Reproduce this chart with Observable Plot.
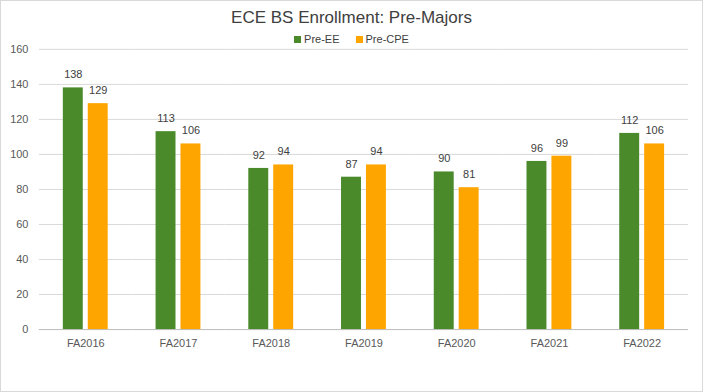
<!DOCTYPE html>
<html>
<head>
<meta charset="utf-8">
<script src="https://cdn.jsdelivr.net/npm/d3@7"></script>
<script src="https://cdn.jsdelivr.net/npm/@observablehq/plot@0.6"></script>
<style>
  html, body { margin: 0; padding: 0; background: #fff; }
  #chart { position: relative; width: 703px; height: 392px; box-sizing: border-box; border: 1px solid #d9d9d9; overflow: hidden; font-family: "Liberation Sans", Arial, sans-serif; }
  #title { position: absolute; left: 0; right: 0; top: 7px; text-align: center; font-size: 17px; color: #404040; }
  #legend { position: absolute; left: 0; right: 0; top: 32px; text-align: center; font-size: 11px; color: #404040; }
  #legend span.item { margin: 0 8px; }
  #legend span.sw { display: inline-block; width: 7px; height: 7px; margin-right: 3px; }
  #chart svg { position: absolute; left: -1px; top: -1px; }
</style>
</head>
<body>
<div id="chart">
  <div id="title">ECE BS Enrollment: Pre-Majors</div>
  <div id="legend"></div>
</div>
<script>
const years = ["FA2016", "FA2017", "FA2018", "FA2019", "FA2020", "FA2021", "FA2022"];
const seriesNames = ["Pre-EE", "Pre-CPE"];
const preEE = [138, 113, 92, 87, 90, 96, 112];
const preCPE = [129, 106, 94, 94, 81, 99, 106];
const yTicks = [0, 20, 40, 60, 80, 100, 120, 140, 160];
const colors = ["#4b8a2b", "#ffa500"];

const data = years.flatMap((yr, i) => [
  {year: yr, series: seriesNames[0], value: preEE[i]},
  {year: yr, series: seriesNames[1], value: preCPE[i]}
]);

const legend = document.getElementById("legend");
legend.innerHTML = seriesNames.map((s, i) =>
  `<span class="item"><span class="sw" style="background:${colors[i]}"></span>${s}</span>`).join("");

const chart = Plot.plot({
  width: 703,
  height: 392,
  marginTop: 49,
  marginBottom: 62,
  marginLeft: 38,
  marginRight: 13,
  style: {fontFamily: "Liberation Sans, Arial, sans-serif", background: "transparent", overflow: "visible"},
  fx: {domain: years, padding: 0, label: null},
  x: {domain: seriesNames, paddingInner: 0.19, paddingOuter: 0.885, axis: null},
  y: {domain: [0, 160], label: null},
  color: {domain: seriesNames, range: colors},
  marks: [
    Plot.gridY(yTicks, {stroke: "#d9d9d9", strokeOpacity: 1}),
    Plot.ruleY([0], {stroke: "#bfbfbf"}),
    Plot.barY(data, {fx: "year", x: "series", y: "value", fill: "series"}),
    Plot.text(data, {fx: "year", x: "series", y: "value", text: d => String(d.value), dy: -13, fill: "#404040", fontSize: 11}),
    Plot.axisY({ticks: yTicks, tickSize: 0, tickPadding: 11, fontSize: 11, color: "#595959", label: null}),
    Plot.axisFx({anchor: "bottom", tickSize: 0, tickPadding: 10, fontSize: 11, color: "#595959", label: null})
  ]
});
document.getElementById("chart").appendChild(chart);
</script>
</body>
</html>
